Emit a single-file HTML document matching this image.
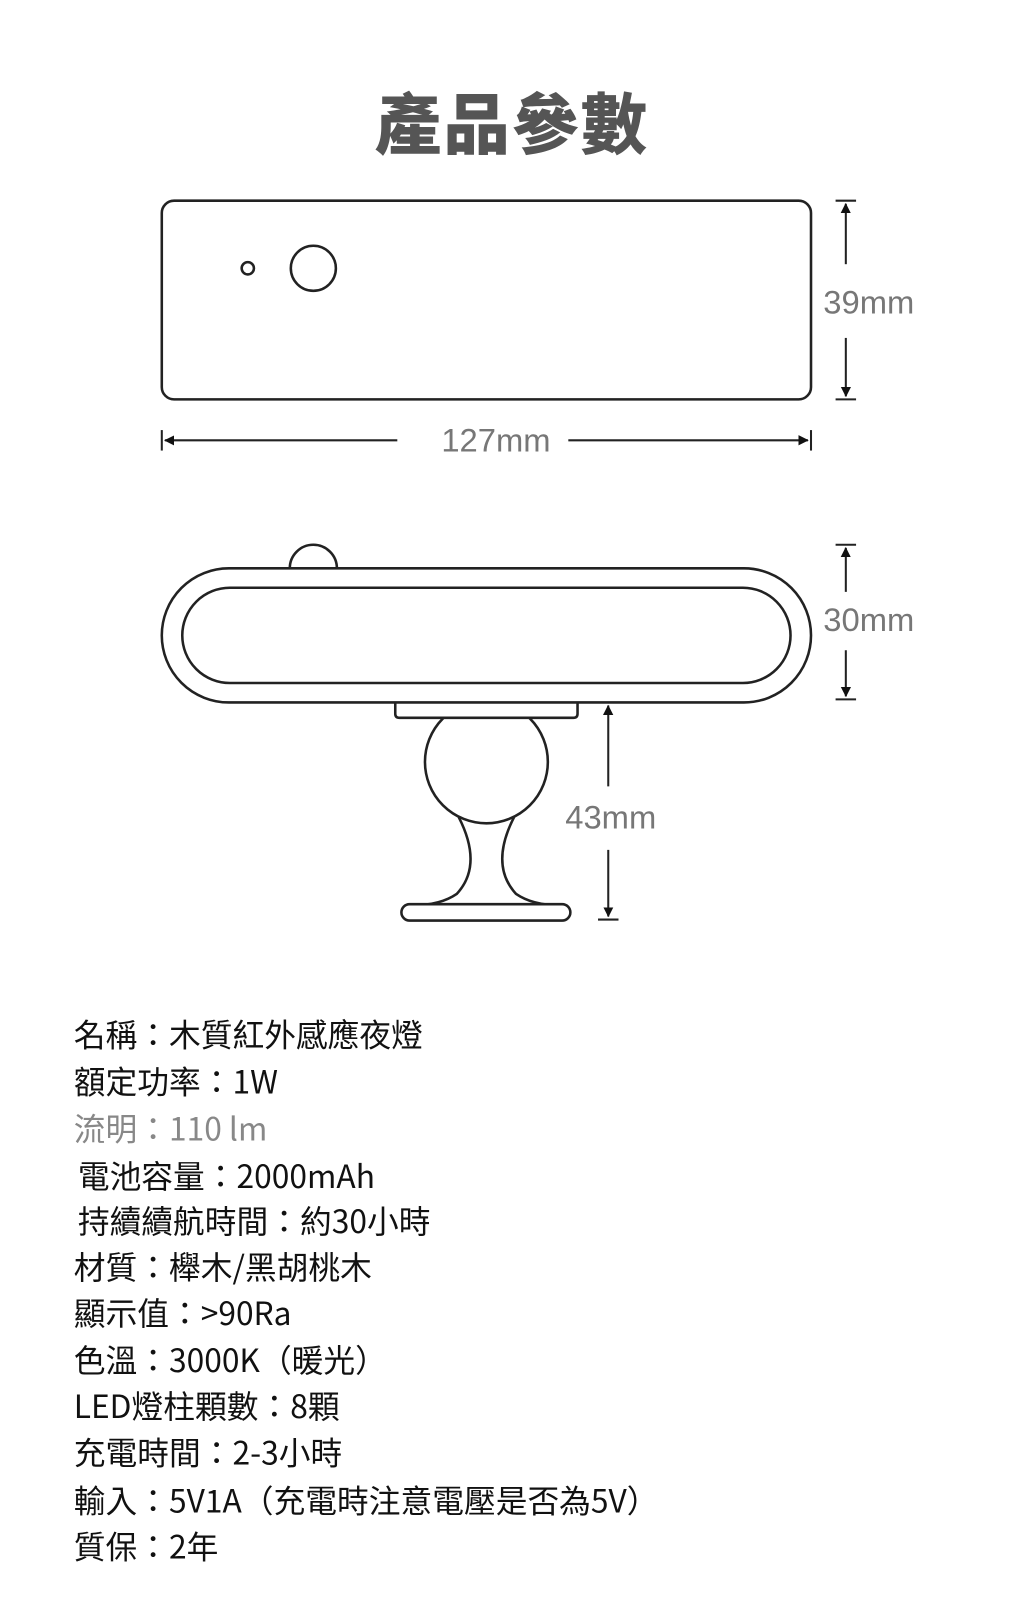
<!DOCTYPE html>
<html><head><meta charset="utf-8"><style>
body{margin:0;width:1024px;height:1606px;background:#fff;position:relative;overflow:hidden;font-family:"Liberation Sans","Noto Sans CJK TC",sans-serif}
#w{position:absolute;left:0;top:0;width:1000px;height:1568px;transform:scale(1.024);transform-origin:0 0}
.t{position:absolute;left:72px;font-size:31px;color:#111;line-height:1;white-space:nowrap;font-family:"Noto Sans CJK TC","Liberation Sans",sans-serif}
h1{position:absolute;top:70px;left:0;width:1000px;text-align:center;margin:0;font-size:65px;font-weight:900;color:#555;font-family:"Noto Sans CJK TC",sans-serif;letter-spacing:2px}
</style></head><body><div id="w">
<h1>產品參數</h1>
<svg width="1000" height="1000" style="position:absolute;left:0;top:0" fill="none" stroke="#222" stroke-width="2.5">
<defs><marker id="a" markerWidth="10" markerHeight="10" refX="9" refY="5" orient="auto" markerUnits="userSpaceOnUse"><path d="M0,0 L10,5 L0,10 z" fill="#111" stroke="none" transform="scale(1.4) translate(-3,-1.5)"/></marker></defs>
<rect x="158" y="196" width="634" height="194" rx="12"/>
<circle cx="242" cy="262" r="6"/><circle cx="306" cy="262" r="22"/>
<g stroke-width="2">
<line x1="816" y1="196" x2="836" y2="196"/><line x1="816" y1="390" x2="836" y2="390"/>
<line x1="826" y1="258" x2="826" y2="199" marker-end="url(#a)"/><line x1="826" y1="330" x2="826" y2="387" marker-end="url(#a)"/>
<line x1="158" y1="420" x2="158" y2="440"/><line x1="792" y1="420" x2="792" y2="440"/>
<line x1="388" y1="430" x2="161" y2="430" marker-end="url(#a)"/><line x1="555" y1="430" x2="789" y2="430" marker-end="url(#a)"/>
<line x1="816" y1="532" x2="836" y2="532"/><line x1="816" y1="683" x2="836" y2="683"/>
<line x1="826" y1="578" x2="826" y2="535" marker-end="url(#a)"/><line x1="826" y1="635" x2="826" y2="680" marker-end="url(#a)"/>
<line x1="584" y1="898" x2="604" y2="898"/>
<line x1="594" y1="768" x2="594" y2="689" marker-end="url(#a)"/><line x1="594" y1="830" x2="594" y2="895" marker-end="url(#a)"/>
</g>
<path d="M283,555 A23,23 0 0 1 329,555"/>
<circle cx="475" cy="744" r="60"/>
<path d="M386,686 L386,697 Q386,701 390,701 L560,701 Q564,701 564,697 L564,686" fill="#fff"/>
<rect x="158" y="555" width="634" height="131" rx="65.5" fill="#fff"/>
<rect x="178" y="574" width="594" height="93" rx="46.5"/>
<path d="M448,798 Q472,845 446,873 Q430,884 404,884 M502,798 Q478,845 504,873 Q520,884 546,884"/>
<rect x="392" y="883" width="165" height="16" rx="8" fill="#fff"/>
<g stroke="none" fill="#777" font-size="32" font-family="Liberation Sans,sans-serif">
<text x="804" y="306">39mm</text><text x="431" y="441">127mm</text>
<text x="804" y="616">30mm</text><text x="552" y="809">43mm</text></g>
</svg>
<div class="t" style="top:993px">名稱：木質紅外感應夜燈</div>
<div class="t" style="top:1039px">額定功率：1W</div>
<div class="t" style="top:1085px;color:#888">流明：110 lm</div>
<div class="t" style="top:1131px;left:76px">電池容量：2000mAh</div>
<div class="t" style="top:1175px;left:76px">持續續航時間：約30小時</div>
<div class="t" style="top:1220px">材質：櫸木/黑胡桃木</div>
<div class="t" style="top:1265px">顯示值：&gt;90Ra</div>
<div class="t" style="top:1311px">色溫：3000K（暖光）</div>
<div class="t" style="top:1356px">LED燈柱顆數：8顆</div>
<div class="t" style="top:1401px">充電時間：2-3小時</div>
<div class="t" style="top:1448px">輸入：5V1A（充電時注意電壓是否為5V）</div>
<div class="t" style="top:1493px">質保：2年</div>
</div></body></html>
